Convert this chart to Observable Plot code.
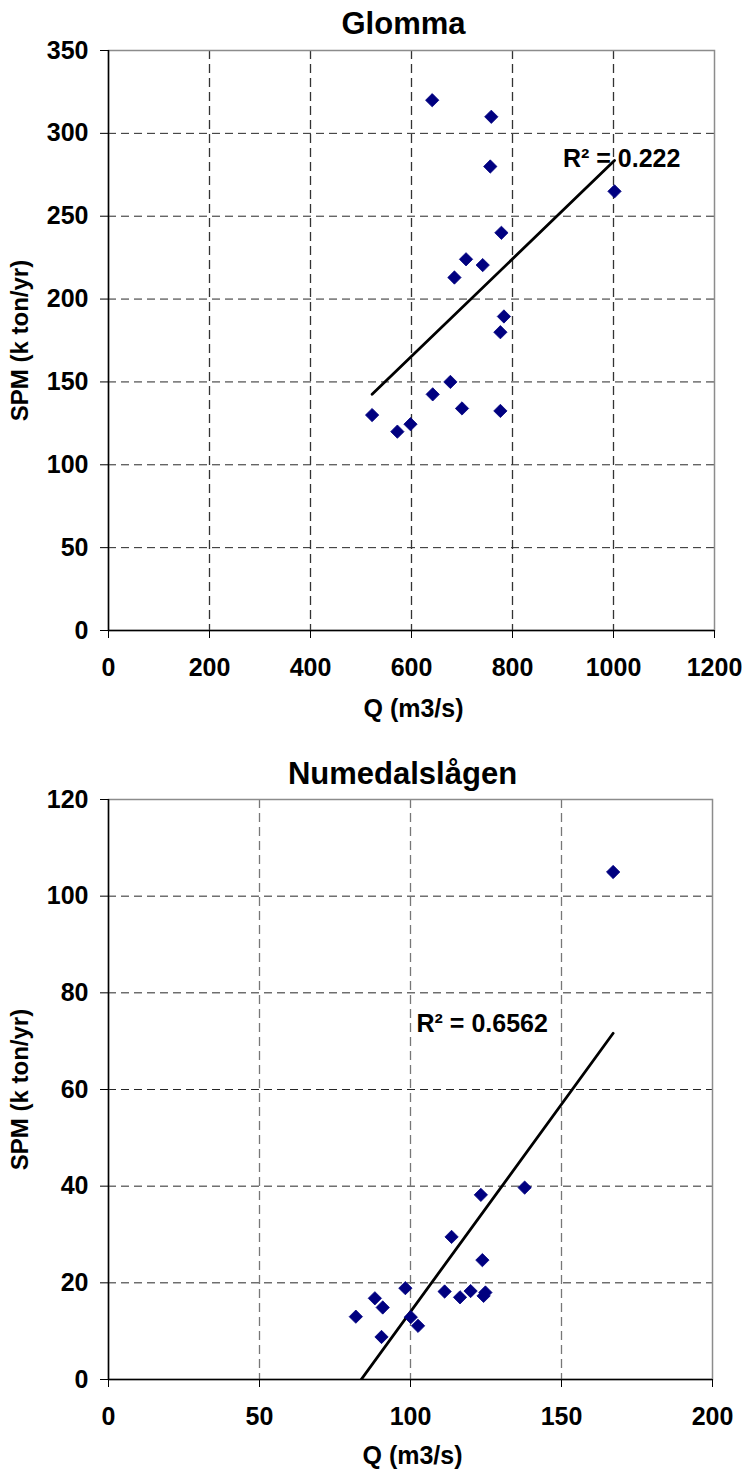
<!DOCTYPE html>
<html>
<head>
<meta charset="utf-8">
<script src="https://cdn.jsdelivr.net/npm/d3@7"></script>
<script src="https://cdn.jsdelivr.net/npm/@observablehq/plot@0.6"></script>
<style>
  html, body { margin: 0; padding: 0; background: white; }
  #charts svg { display: block; }
</style>
</head>
<body>
<div id="charts"></div>
<script>
// Glomma
const glommaTitle = "Glomma";
const glommaQ   = [641, 758, 756, 1002, 778, 708, 741, 685, 783, 776, 677, 642, 522, 700, 776, 598, 572];
const glommaSPM = [320, 310, 280, 265, 240, 224, 220.5, 213, 189.5, 180, 150, 142.5, 130, 134, 132.5, 124.5, 120];
const glommaR2  = "R² = 0.222";
const glommaXTicks = [0, 200, 400, 600, 800, 1000, 1200];
const glommaYTicks = [0, 50, 100, 150, 200, 250, 300, 350];

// Numedalslågen
const numTitle = "Numedalslågen";
const numQ   = [167.1, 137.8, 123.3, 113.6, 123.8, 98.3, 88.2, 90.8, 81.9, 90.4, 100.1, 102.5, 111.3, 116.4, 119.9, 124.2, 124.8];
const numSPM = [105, 39.7, 38.2, 29.5, 24.7, 18.9, 16.8, 14.9, 13, 8.8, 12.9, 11.1, 18.2, 17, 18.3, 17.3, 18.0];
const numR2  = "R² = 0.6562";
const numXTicks = [0, 50, 100, 150, 200];
const numYTicks = [0, 20, 40, 60, 80, 100, 120];

const xLabel = "Q (m3/s)";
const yLabel = "SPM (k ton/yr)";

const FONT = "'Liberation Sans', Arial, Helvetica, sans-serif";

function chart({title, qs, spm, r2, r2At, xTicks, yTicks, margins, titleDy, xLabelDy, vGridColor}) {
  const data = qs.map((q, i) => ({q, s: spm[i]}));
  const xMax = xTicks[xTicks.length - 1];
  const yMax = yTicks[yTicks.length - 1];
  const fmt = d => String(d);
  return Plot.plot({
    width: 746,
    height: 737,
    ...margins,
    style: {fontFamily: FONT, fontWeight: "bold", fontSize: "25px", background: "white", color: "black"},
    x: {domain: [0, xMax], ticks: xTicks},
    y: {domain: [0, yMax], ticks: yTicks},
    marks: [
      Plot.gridY(yTicks.slice(1, -1), {stroke: "#000", strokeOpacity: 0.85, strokeWidth: 1, strokeDasharray: "8,5"}),
      Plot.gridX(xTicks.slice(1, -1), {stroke: vGridColor, strokeOpacity: 1, strokeWidth: 1.3, strokeDasharray: "9,5"}),
      Plot.frame({stroke: "#8c8c8c", strokeWidth: 1.5}),
      Plot.ruleX([0], {stroke: "#000", strokeWidth: 1.5}),
      Plot.ruleY([0], {stroke: "#000", strokeWidth: 1.5}),
      Plot.axisY(yTicks, {tickSize: 8, tickPadding: 12, tickFormat: fmt, fontSize: 25, fontWeight: "bold", label: null}),
      Plot.axisX(xTicks, {tickSize: 8, tickPadding: 20, tickFormat: fmt, fontSize: 25, fontWeight: "bold", label: null}),
      Plot.linearRegressionY(data, {x: "q", y: "s", ci: 0, stroke: "#000", strokeWidth: 2.8, clip: true}),
      Plot.dot(data, {x: "q", y: "s", symbol: "diamond2", r: 6, fill: "#000080", stroke: "#000080", strokeWidth: 0.8}),
      Plot.text([r2], {x: r2At[0], y: r2At[1], text: d => d, textAnchor: "start", lineAnchor: "bottom", fontSize: 25, fontWeight: "bold"}),
      Plot.text([title], {frameAnchor: "top", dx: -8, dy: titleDy, textAnchor: "middle", lineAnchor: "bottom", fontSize: 31, fontWeight: "bold"}),
      Plot.text([xLabel], {frameAnchor: "bottom", dx: 2, dy: xLabelDy, textAnchor: "middle", lineAnchor: "bottom", fontSize: 25, fontWeight: "bold"}),
      Plot.text([yLabel], {frameAnchor: "left", dx: -88, rotate: -90, textAnchor: "middle", lineAnchor: "middle", fontSize: 24, fontWeight: "bold"})
    ]
  });
}

const root = document.getElementById("charts");
root.appendChild(chart({
  title: glommaTitle, qs: glommaQ, spm: glommaSPM, r2: glommaR2, r2At: [900, 280],
  xTicks: glommaXTicks, yTicks: glommaYTicks,
  margins: {marginTop: 50, marginBottom: 107, marginLeft: 108, marginRight: 32},
  titleDy: -17, xLabelDy: 86, vGridColor: "#333"
}));
root.appendChild(chart({
  title: numTitle, qs: numQ, spm: numSPM, r2: numR2, r2At: [102, 71.8],
  xTicks: numXTicks, yTicks: numYTicks,
  margins: {marginTop: 62, marginBottom: 95, marginLeft: 108, marginRight: 34},
  titleDy: -16, xLabelDy: 84, vGridColor: "#777"
}));
</script>
</body>
</html>
